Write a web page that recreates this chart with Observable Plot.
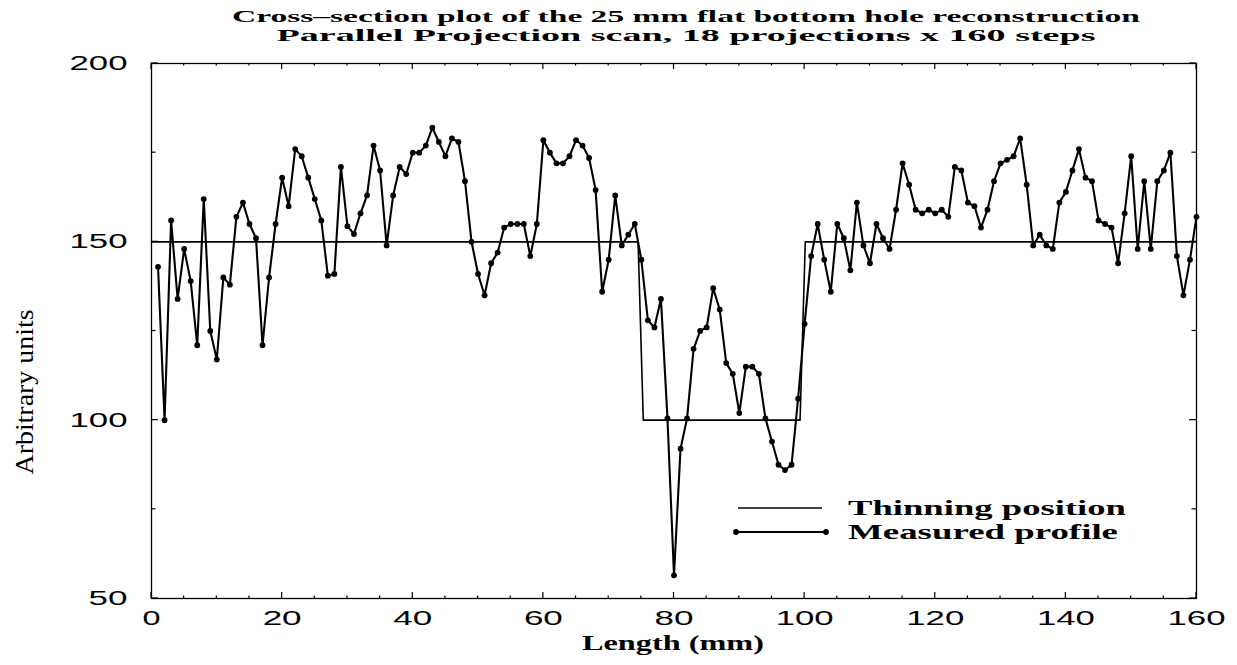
<!DOCTYPE html>
<html><head><meta charset="utf-8">
<script src="https://cdn.jsdelivr.net/npm/d3@7"></script>
<script src="https://cdn.jsdelivr.net/npm/@observablehq/plot@0.6"></script>
<style>body{margin:0;background:#fff}</style>
</head><body><div id="chart"></div>
<script>
// Measured profile, one value per 1 mm step (steps 1..160)
const measured = [
143,100,156,134,148,139,121,162,125,117,
140,138,157,161,155,151,121,140,155,168,
160,176,174,168,162,156,140.5,141,171,154.4,
152.2,158,163,177,170,149,163,171,169,175,
175,177,182,178,174,179,178,167,150,141,
135,144,147,154,155,155,155,146,155,178.5,
175,172,172,174,178.5,177,173.5,164.5,136,145,
163,149,152,155,145,128,126,134,100.5,56.5,
92,100.5,120,125,126,137,131,116,113,102,
115,115,113,100.5,94,87.5,86,87.5,106,127,
146,155,145,136,155,151,142,161,149,144,
155,151,148,159,172,166,159,158,159,158,
159,157,171,170,161,160,154,159,167,172,
173,174,179,166,149,152,149,148,161,164,
170,176,168,167,156,155,154,144,158,174,
148,167,148,167,170,175,146,135,145,157
];
const steps = d3.range(1, measured.length + 1);
// Thinning position (step profile)
const thinningX = [0, 74.5, 75.3, 99.3, 100.1, 160];
const thinningY = [150, 150, 100, 100, 150, 150];
// Ticks
const xMajor = [0, 20, 40, 60, 80, 100, 120, 140, 160];
const xMinor = [5,10,15,25,30,35,45,50,55,65,70,75,85,90,95,105,110,115,125,130,135,145,150,155];
const yMajor = [50, 100, 150, 200];
const yMinor = [75, 125, 175];

const meas = steps.map((x, i) => ({x, y: measured[i]}));
const thin = thinningX.map((x, i) => ({x, y: thinningY[i]}));

const chart = Plot.plot({
  width: 1237, height: 665,
  marginLeft: 151, marginRight: 41, marginTop: 63, marginBottom: 67,
  x: {domain: [0, 160]},
  y: {domain: [50, 200]},
  style: {background: "white", color: "black", fontFamily: "Liberation Sans", fontSize: "20px"},
  marks: [
    Plot.frame({stroke: "black", strokeWidth: 1.3}),
    Plot.axisX({ticks: xMajor, anchor: "bottom", tickSize: 0, tickPadding: 12, fontSize: 20, label: null}),
    Plot.axisY({ticks: yMajor, anchor: "left", tickSize: 0, tickPadding: 24, fontSize: 20, label: null}),
    Plot.line(thin, {x: "x", y: "y", stroke: "black", strokeWidth: 1.6}),
    Plot.line(meas, {x: "x", y: "y", stroke: "black", strokeWidth: 2.1}),
    Plot.dot(meas, {x: "x", y: "y", r: 2.9, fill: "black", stroke: null})
  ]
});
document.getElementById("chart").appendChild(chart);

const svg = d3.select(chart);
const sx = chart.scale("x"), sy = chart.scale("y");
const X0 = sx.apply(0), X1 = sx.apply(160), Y0 = sy.apply(50), Y1 = sy.apply(200);

// Inward ticks on all four sides
const tg = svg.append("g").attr("stroke", "black").attr("stroke-width", 1.2);
function xTicks(vals, len) {
  for (const v of vals) {
    const px = sx.apply(v);
    tg.append("line").attr("x1", px).attr("x2", px).attr("y1", Y0).attr("y2", Y0 - len);
    tg.append("line").attr("x1", px).attr("x2", px).attr("y1", Y1).attr("y2", Y1 + len);
  }
}
function yTicks(vals, len) {
  for (const v of vals) {
    const py = sy.apply(v);
    tg.append("line").attr("x1", X0).attr("x2", X0 + len).attr("y1", py).attr("y2", py);
    tg.append("line").attr("x1", X1).attr("x2", X1 - len).attr("y1", py).attr("y2", py);
  }
}
xTicks(xMajor, 6); xTicks(xMinor, 2.5);
yTicks(yMajor, 7); yTicks(yMinor, 4.5);

const widths = {1: 18, 2: 39, 3: 58};
svg.selectAll('g[aria-label="x-axis tick label"] text, g[aria-label="y-axis tick label"] text').each(function () {
  const n = this.textContent.length;
  if (n && widths[n]) {
    this.setAttribute("textLength", widths[n]);
    this.setAttribute("lengthAdjust", "spacingAndGlyphs");
  }
});

function addText(t, x, y, size, len, weight, anchor, rotate) {
  const el = svg.append("text")
    .attr("x", x).attr("y", y)
    .attr("font-family", "Liberation Serif")
    .attr("font-size", size)
    .attr("font-weight", weight)
    .attr("text-anchor", anchor)
    .attr("fill", "black")
    .attr("textLength", len)
    .attr("lengthAdjust", "spacingAndGlyphs")
    .text(t);
  if (rotate) el.attr("transform", `rotate(-90 ${x} ${y})`);
  return el;
}
addText("Cross\u2013section plot of the 25 mm flat bottom hole reconstruction", 686, 22, 17, 908, "bold", "middle");
addText("Parallel Projection scan, 18 projections x 160 steps", 686, 41, 17, 819, "bold", "middle");
addText("Length (mm)", 673, 650, 21, 182, "bold", "middle");
addText("Arbitrary units", 33, 392, 26, 165, "normal", "middle", true);

// Legend
const lg = svg.append("g").attr("stroke", "black");
lg.append("line").attr("x1", 738).attr("x2", 822).attr("y1", 508).attr("y2", 508).attr("stroke-width", 1.6);
lg.append("line").attr("x1", 736).attr("x2", 826).attr("y1", 532).attr("y2", 532).attr("stroke-width", 2.1);
lg.append("circle").attr("cx", 736).attr("cy", 532).attr("r", 2.9).attr("fill", "black").attr("stroke", "none");
lg.append("circle").attr("cx", 826).attr("cy", 532).attr("r", 2.9).attr("fill", "black").attr("stroke", "none");
addText("Thinning position", 848, 515, 21, 278, "bold", "start");
addText("Measured profile", 848, 539, 21, 270, "bold", "start");
</script>
</body></html>
